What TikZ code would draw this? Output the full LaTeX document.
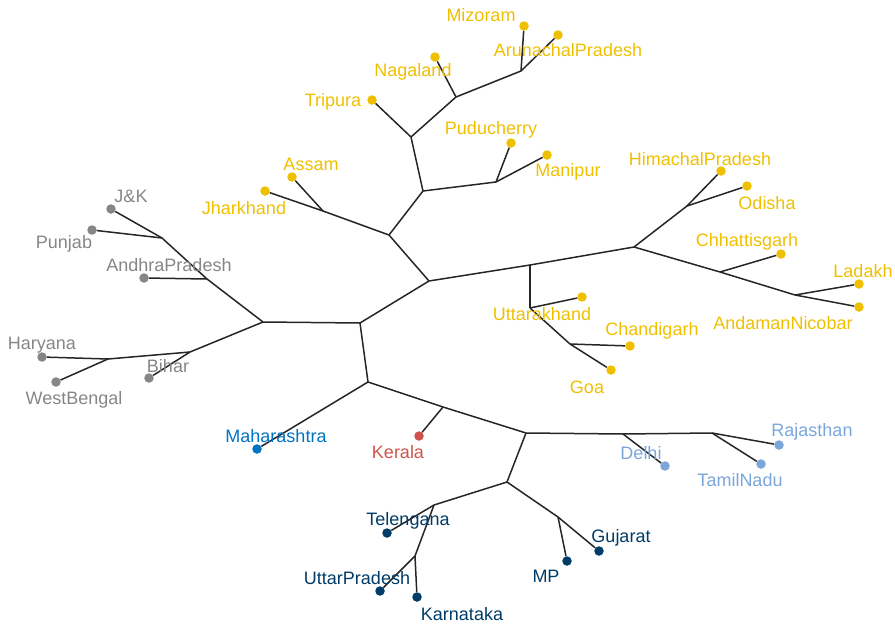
\documentclass[tikz,border=0pt]{standalone}
\usepackage{fontspec}
\setmainfont{Liberation Sans}
\definecolor{cy}{HTML}{EFC000}
\definecolor{cg}{HTML}{868686}
\definecolor{cb}{HTML}{0073C2}
\definecolor{cr}{HTML}{CD534C}
\definecolor{cl}{HTML}{7AA6DC}
\definecolor{cn}{HTML}{003C67}
\begin{document}
\begin{tikzpicture}[x=1pt,y=-1pt,
  edge/.style={draw=black!85,line width=1.5pt},
  leaf/.style={circle,fill=#1,inner sep=0pt,minimum size=9.5pt},
  lab/.style={text=#1,font=\fontsize{18}{20}\selectfont,inner sep=0pt,anchor=center}]
\useasboundingbox (0,0) rectangle (895,624);
% internal nodes
\coordinate (nMA) at (521,71);
\coordinate (nNag) at (456,97);
\coordinate (nTri) at (411,137);
\coordinate (nPM) at (496,182);
\coordinate (nPM2) at (423,191);
\coordinate (nAJ) at (323,211);
\coordinate (nA) at (389,235);
\coordinate (nY) at (429,281);
\coordinate (nU) at (530,265);
\coordinate (nUt) at (530,308);
\coordinate (nCG) at (570,344);
\coordinate (nR) at (634,247);
\coordinate (nHO) at (687,206);
\coordinate (nCh) at (720,272);
\coordinate (nLA) at (795,295);
\coordinate (nC) at (360,323);
\coordinate (nG) at (263,322);
\coordinate (nJP2) at (207,279);
\coordinate (nJP) at (162,238);
\coordinate (nB) at (190,352);
\coordinate (nHW) at (108,359);
\coordinate (nS) at (368,382);
\coordinate (nK) at (443,407);
\coordinate (nD) at (526,433);
\coordinate (nDel) at (623,434);
\coordinate (nRT) at (712,433);
\coordinate (nT) at (507,482);
\coordinate (nTel) at (434,505);
\coordinate (nUK) at (415,556);
\coordinate (nMG) at (558,517);
% leaves
\node[leaf=cy] (Mizoram) at (524,26) {};
\node[leaf=cy] (Arunachal) at (558,35) {};
\node[leaf=cy] (Nagaland) at (435,57) {};
\node[leaf=cy] (Tripura) at (372,100) {};
\node[leaf=cy] (Puducherry) at (511,143) {};
\node[leaf=cy] (Manipur) at (547,155) {};
\node[leaf=cy] (Assam) at (292,177) {};
\node[leaf=cy] (Jharkhand) at (265,191) {};
\node[leaf=cy] (Uttarakhand) at (582,297) {};
\node[leaf=cy] (Chandigarh) at (630,346) {};
\node[leaf=cy] (Goa) at (611,370) {};
\node[leaf=cy] (HP) at (721,171) {};
\node[leaf=cy] (Odisha) at (747,186) {};
\node[leaf=cy] (Chhattisgarh) at (781,254) {};
\node[leaf=cy] (Ladakh) at (859,284) {};
\node[leaf=cy] (Andaman) at (859,307) {};
\node[leaf=cg] (JK) at (111,209) {};
\node[leaf=cg] (Punjab) at (92,230) {};
\node[leaf=cg] (AP) at (144,278) {};
\node[leaf=cg] (Bihar) at (149,378) {};
\node[leaf=cg] (Haryana) at (42,357) {};
\node[leaf=cg] (WB) at (56,382) {};
\node[leaf=cb] (Maharashtra) at (257,449) {};
\node[leaf=cr] (Kerala) at (419,436) {};
\node[leaf=cl] (Delhi) at (665,466) {};
\node[leaf=cl] (Rajasthan) at (779,445) {};
\node[leaf=cl] (TamilNadu) at (761,464) {};
\node[leaf=cn] (Telengana) at (387,533) {};
\node[leaf=cn] (UP) at (380,591) {};
\node[leaf=cn] (Karnataka) at (417,597) {};
\node[leaf=cn] (MP) at (567,561) {};
\node[leaf=cn] (Gujarat) at (599,551) {};
% edges
\draw[edge] (Mizoram) -- (nMA);
\draw[edge] (Arunachal) -- (nMA);
\draw[edge] (nMA) -- (nNag);
\draw[edge] (Nagaland) -- (nNag);
\draw[edge] (nNag) -- (nTri);
\draw[edge] (Tripura) -- (nTri);
\draw[edge] (nTri) -- (nPM2);
\draw[edge] (Puducherry) -- (nPM);
\draw[edge] (Manipur) -- (nPM);
\draw[edge] (nPM) -- (nPM2);
\draw[edge] (nPM2) -- (nA);
\draw[edge] (Assam) -- (nAJ);
\draw[edge] (Jharkhand) -- (nAJ);
\draw[edge] (nAJ) -- (nA);
\draw[edge] (nA) -- (nY);
\draw[edge] (nY) -- (nU);
\draw[edge] (nY) -- (nC);
\draw[edge] (nU) -- (nR);
\draw[edge] (nU) -- (nUt);
\draw[edge] (Uttarakhand) -- (nUt);
\draw[edge] (nUt) -- (nCG);
\draw[edge] (Chandigarh) -- (nCG);
\draw[edge] (Goa) -- (nCG);
\draw[edge] (nR) -- (nHO);
\draw[edge] (HP) -- (nHO);
\draw[edge] (Odisha) -- (nHO);
\draw[edge] (nR) -- (nCh);
\draw[edge] (Chhattisgarh) -- (nCh);
\draw[edge] (nCh) -- (nLA);
\draw[edge] (Ladakh) -- (nLA);
\draw[edge] (Andaman) -- (nLA);
\draw[edge] (nC) -- (nG);
\draw[edge] (nG) -- (nJP2);
\draw[edge] (AP) -- (nJP2);
\draw[edge] (nJP2) -- (nJP);
\draw[edge] (JK) -- (nJP);
\draw[edge] (Punjab) -- (nJP);
\draw[edge] (nG) -- (nB);
\draw[edge] (Bihar) -- (nB);
\draw[edge] (nB) -- (nHW);
\draw[edge] (Haryana) -- (nHW);
\draw[edge] (WB) -- (nHW);
\draw[edge] (nC) -- (nS);
\draw[edge] (Maharashtra) -- (nS);
\draw[edge] (nS) -- (nK);
\draw[edge] (Kerala) -- (nK);
\draw[edge] (nK) -- (nD);
\draw[edge] (nD) -- (nDel);
\draw[edge] (Delhi) -- (nDel);
\draw[edge] (nDel) -- (nRT);
\draw[edge] (Rajasthan) -- (nRT);
\draw[edge] (TamilNadu) -- (nRT);
\draw[edge] (nD) -- (nT);
\draw[edge] (nT) -- (nTel);
\draw[edge] (Telengana) -- (nTel);
\draw[edge] (nTel) -- (nUK);
\draw[edge] (UP) -- (nUK);
\draw[edge] (Karnataka) -- (nUK);
\draw[edge] (nT) -- (nMG);
\draw[edge] (MP) -- (nMG);
\draw[edge] (Gujarat) -- (nMG);
% labels
\node[lab=cy] (tMizoram) at (481,15) {Mizoram};
\node[lab=cy] (tArunachal) at (568,50) {ArunachalPradesh};
\node[lab=cy] (tNagaland) at (413,72) {Nagaland};
\node[lab=cy] (tTripura) at (333,102) {Tripura};
\node[lab=cy] (tPuducherry) at (491,130) {Puducherry};
\node[lab=cy] (tManipur) at (568,172) {Manipur};
\node[lab=cy] (tAssam) at (311,164) {Assam};
\node[lab=cy] (tJharkhand) at (244,208) {Jharkhand};
\node[lab=cg] (tJK) at (131,196) {J\&K};
\node[lab=cg] (tPunjab) at (64,244) {Punjab};
\node[lab=cg] (tAP) at (169,265) {AndhraPradesh};
\node[lab=cg] (tHaryana) at (42,345) {Haryana};
\node[lab=cg] (tBihar) at (168,366) {Bihar};
\node[lab=cg] (tWB) at (74,400) {WestBengal};
\node[lab=cy] (tHP) at (700,159) {HimachalPradesh};
\node[lab=cy] (tOdisha) at (767,203) {Odisha};
\node[lab=cy] (tChhattisgarh) at (747,242) {Chhattisgarh};
\node[lab=cy] (tLadakh) at (863,271) {Ladakh};
\node[lab=cy] (tAndaman) at (783,323) {AndamanNicobar};
\node[lab=cy] (tUttarakhand) at (542,314) {Uttarakhand};
\node[lab=cy] (tChandigarh) at (652,331) {Chandigarh};
\node[lab=cy] (tGoa) at (587,387) {Goa};
\node[lab=cb] (tMaharashtra) at (276,436) {Maharashtra};
\node[lab=cr] (tKerala) at (398,452) {Kerala};
\node[lab=cl] (tDelhi) at (641,453) {Delhi};
\node[lab=cl] (tRajasthan) at (812,432) {Rajasthan};
\node[lab=cl] (tTamilNadu) at (740,480) {TamilNadu};
\node[lab=cn] (tTelengana) at (408,521) {Telengana};
\node[lab=cn] (tGujarat) at (621,538) {Gujarat};
\node[lab=cn] (tUP) at (357,578) {UttarPradesh};
\node[lab=cn] (tMP) at (546,576) {MP};
\node[lab=cn] (tKarnataka) at (462,614) {Karnataka};
\end{tikzpicture}
\end{document}
